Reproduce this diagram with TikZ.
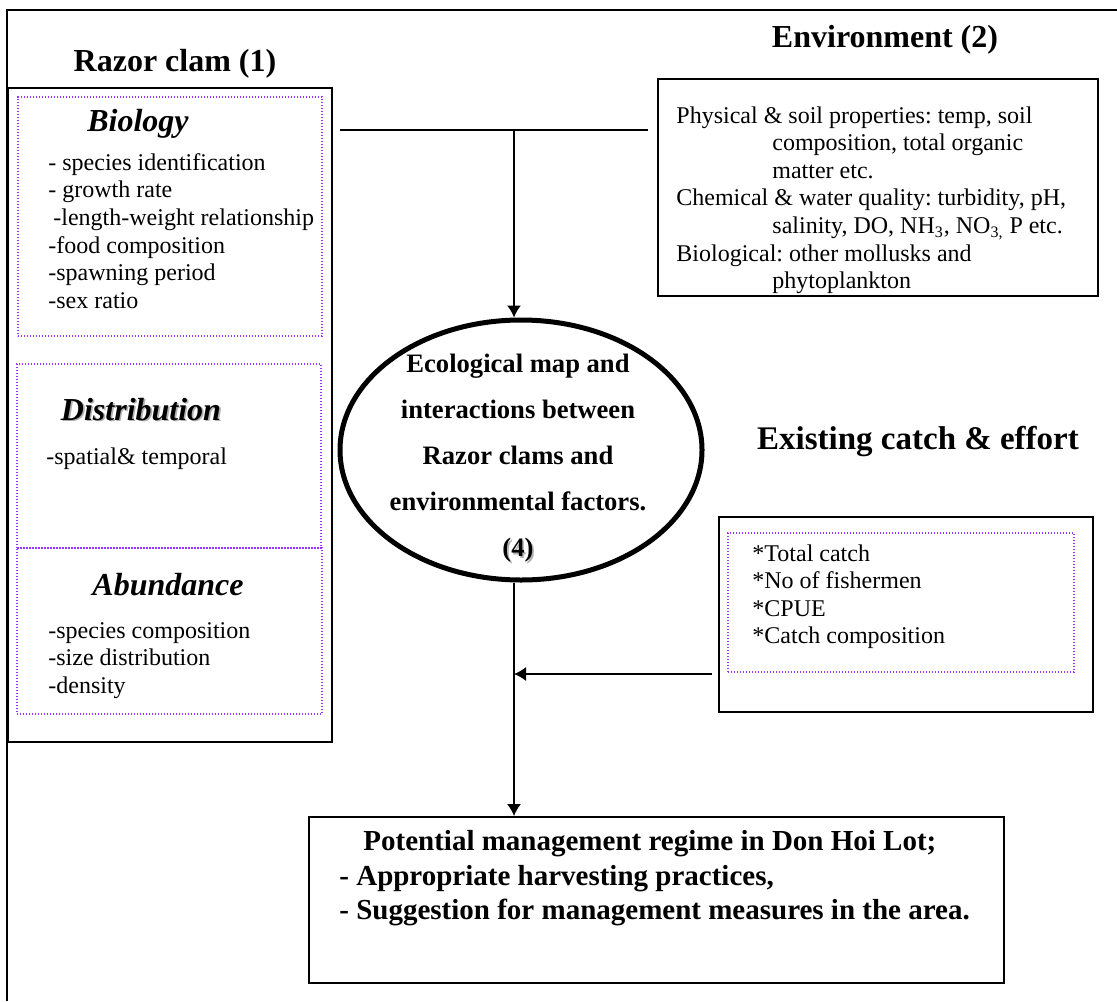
\documentclass[tikz,border=0pt]{standalone}
\usepackage{fontspec}
\setmainfont{Liberation Serif}
\frenchspacing
\usepackage{tikz}
\usetikzlibrary{arrows.meta,positioning,fit,shapes.geometric}
\definecolor{dotviolet}{RGB}{153,51,255}
\newcommand{\shadowtxt}[1]{\makebox[0pt][l]{\hspace{0.8pt}\raisebox{-0.8pt}{\textcolor{black!30}{#1}}}#1}

\begin{document}
\begin{tikzpicture}[x=0.5pt,y=-0.5pt,>={Latex[length=6pt,width=7pt]}]
    \tikzset{frame/.style={draw,line width=1pt,inner sep=0pt},
      dotbox/.style={draw=dotviolet,line width=0.6pt,dash pattern=on 0.6pt off 0.9pt,inner sep=0pt},
      title/.style={font=\fontsize{16}{19}\selectfont\bfseries,inner sep=0pt},
      head/.style={font=\fontsize{16}{19}\selectfont\bfseries\itshape,inner sep=0pt},
      list/.style={font=\fontsize{12}{13.8}\selectfont,align=left,anchor=north west,inner sep=0pt},
      link/.style={line width=0.7pt}}
    \useasboundingbox (0,0) rectangle (1117,1001);
    \draw[line width=1pt] (7,1001) -- (7,10) -- (1117,10);
    % razor clam (1)
    \node[title] (rzt) at (175,64) {Razor clam (1)};
    \node[frame,fit={(8,88) (332,742)}] (rz) {};
    \node[dotbox,fit={(18,97) (322,336)}] (bio) {};
    \node[dotbox,fit={(17,364) (321,548)}] (dis) {};
    \node[dotbox,fit={(17,548) (322,714)}] (abu) {};
    \node[head] (bioh) at (138,124) {Biology};
    \node[list] (biol) at (48,153) {- species identification\\- growth rate\\\hspace*{2.5pt}-length-weight relationship\\-food composition\\-spawning period\\-sex ratio};
    \node[head] (dish) at (141,410) {\shadowtxt{Distribution}};
    \node[list] (disl) at (46,447) {-spatial\& temporal};
    \node[head] (abuh) at (168,585) {Abundance};
    \node[list] (abul) at (48,622) {-species composition\\-size distribution\\-density};
    % environment (2)
    \node[title] (envt) at (885,40) {Environment (2)};
    \node[frame,fit={(658,79) (1098,296)}] (env) {};
    \node[list] (envl) at (676,106) {Physical \& soil properties: temp, soil\\
      \hspace*{48pt}composition, total organic\\
      \hspace*{48pt}matter etc.\\
      Chemical \& water quality: turbidity, pH,\\
      \hspace*{48pt}salinity, DO, NH\textsubscript{3}, NO\textsubscript{3,} P etc.\\
      Biological: other mollusks and\\
      \hspace*{48pt}phytoplankton};
    % ecological map (4)
    \node[draw,ellipse,line width=2.5pt,minimum width=181pt,minimum height=130pt,inner sep=0pt] (eco) at (521,450) {};
    \node[font=\fontsize{13.3}{23}\selectfont\bfseries,align=center,inner sep=0pt] (ecot) at (518,459) {Ecological map and\\interactions between\\Razor clams and\\environmental factors.\\\shadowtxt{(4)}};
    % catch & effort
    \node[title,font=\fontsize{16.5}{19}\selectfont\bfseries] (catt) at (918,442) {Existing catch \& effort};
    \node[frame,fit={(719,517) (1093,712)}] (cat) {};
    \node[dotbox,fit={(728,533) (1074,672)}] (catd) {};
    \node[list] (catl) at (752,544) {*Total catch\\*No of fishermen\\*CPUE\\*Catch composition};
    % management
    \node[frame,fit={(309,817) (1004,983)}] (mgmt) {};
    \node[font=\fontsize{14.5}{17.25}\selectfont\bfseries,align=left,anchor=north west,inner sep=0pt] (mgmtl) at (339,830) {\hspace*{12pt}Potential management regime in Don Hoi Lot;\\- Appropriate harvesting practices,\\- Suggestion for management measures in the area.};
    % links
    \coordinate (bl) at (340,130);
    \coordinate (br) at (648,130);
    \coordinate (bm) at (514,130);
    \coordinate (jn) at (514,674);
    \coordinate (ca) at (712,674);
    \draw[link] (bl) -- (br);
    \draw[link,->] (bm) -- (bm |- eco.north);
    \draw[link,->] (jn |- eco.south) -- (jn |- mgmt.north);
    \draw[link,->] (ca) -- (jn);
\end{tikzpicture}
\end{document}
